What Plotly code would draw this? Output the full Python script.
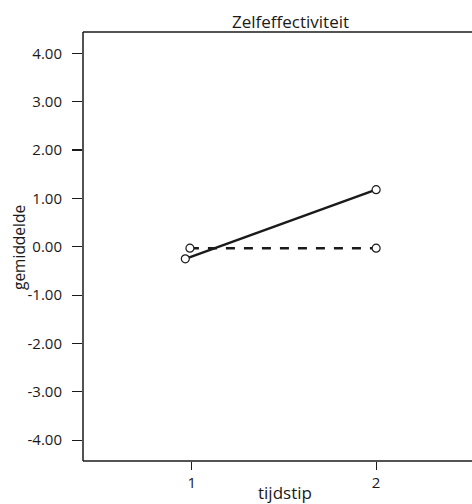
import plotly.graph_objects as go

title = "Zelfeffectiviteit"
x_label = "tijdstip"
y_label = "gemiddelde"

# series A (solid) and B (dashed); x slightly offset at time 1 as in the picture
solid_x = [0.965, 2.0]
solid_y = [-0.25, 1.18]
dashed_x = [0.99, 2.0]
dashed_y = [-0.03, -0.03]

y_ticks = [4, 3, 2, 1, 0, -1, -2, -3, -4]
y_tick_labels = ["4.00", "3.00", "2.00", "1.00", "0.00", "-1.00", "-2.00", "-3.00", "-4.00"]
x_ticks = [1, 2]
x_tick_labels = ["1", "2"]

font_family = "Open Sans, Noto Sans, sans-serif"
ink = "#1a1a1a"

W, H = 472, 504
L, R, T, B = 83, 0, 32, 43
pw, ph = W - L - R, H - T - B


def px_x(x):
    return (x - L) / pw


def px_y(y):
    return (H - B - y) / ph


fig = go.Figure()
fig.add_trace(go.Scatter(
    x=solid_x, y=solid_y, mode="lines+markers",
    line=dict(color=ink, width=2.5),
    marker=dict(symbol="circle", size=8, color="white", line=dict(color=ink, width=1.2)),
    showlegend=False, hoverinfo="skip",
))
fig.add_trace(go.Scatter(
    x=dashed_x, y=dashed_y, mode="lines+markers",
    line=dict(color=ink, width=2.5, dash="dash"),
    marker=dict(symbol="circle", size=8, color="white", line=dict(color=ink, width=1.2)),
    showlegend=False, hoverinfo="skip",
))

fig.update_layout(
    width=W, height=H,
    margin=dict(l=L, r=R, t=T, b=B, autoexpand=False),
    paper_bgcolor="white", plot_bgcolor="white",
    font=dict(family=font_family, size=15, color=ink),
    shapes=[
        # frame: top, left and bottom edges of the plot area
        dict(type="line", xref="paper", yref="paper", x0=0, x1=1, y0=1, y1=1,
             line=dict(color=ink, width=1.5)),
        dict(type="line", xref="paper", yref="paper", x0=0, x1=0, y0=0, y1=1,
             line=dict(color=ink, width=1.5)),
        dict(type="line", xref="paper", yref="paper", x0=0, x1=1, y0=0, y1=0,
             line=dict(color=ink, width=1.5)),
    ],
    annotations=[
        dict(text=title, x=px_x(290), y=px_y(22), xref="paper", yref="paper",
             showarrow=False, xanchor="center", yanchor="middle",
             font=dict(size=17, color=ink)),
        dict(text=x_label, x=px_x(285), y=px_y(492), xref="paper", yref="paper",
             showarrow=False, xanchor="center", yanchor="middle",
             font=dict(size=17, color=ink)),
        dict(text=y_label, x=px_x(19), y=px_y(248), xref="paper", yref="paper",
             showarrow=False, xanchor="center", yanchor="middle", textangle=-90,
             font=dict(size=15.5, color=ink)),
    ],
)

fig.update_xaxes(
    range=[0.41, 2.52], tickvals=x_ticks, ticktext=x_tick_labels,
    ticks="outside", ticklen=8, tickwidth=1.2, tickcolor=ink,
    showline=False, mirror=False,
    showgrid=False, zeroline=False, automargin=False,
    tickfont=dict(size=15, color=ink),
)
fig.update_yaxes(
    range=[-4.43, 4.44], tickvals=y_ticks, ticktext=y_tick_labels,
    ticks="outside", ticklen=10, tickwidth=1.2, tickcolor=ink,
    showline=False, mirror=False,
    showgrid=False, zeroline=False, automargin=False,
    ticklabelstandoff=7,
    tickfont=dict(size=15, color=ink),
)

fig.write_html(
    "out.html", config={"displayModeBar": False, "staticPlot": True},
    post_script=(
        "document.body.style.margin='0';"
        "document.body.style.overflow='hidden';"
        "document.documentElement.style.overflow='hidden';"
    ),
)
